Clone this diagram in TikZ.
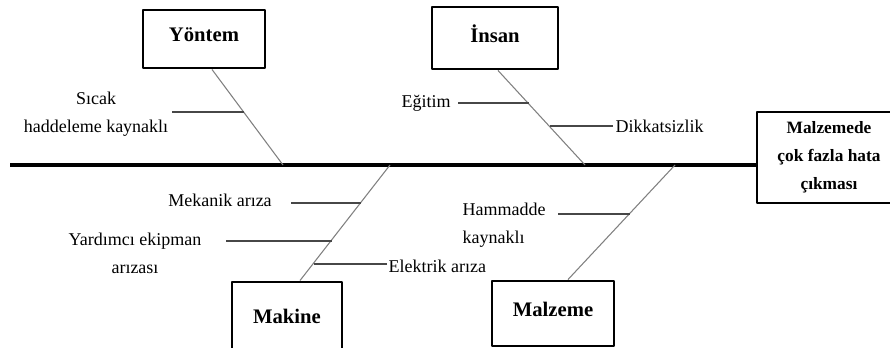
\documentclass[tikz,border=0pt]{standalone}
\usepackage{fontspec}
\setmainfont{Liberation Serif}
\begin{document}
\begin{tikzpicture}[x=.75pt,y=-.75pt,line join=round,
		font=\fontsize{13.5}{21}\selectfont,
		cat/.style={draw,line width=2.2pt,font=\fontsize{15.5}{18}\selectfont\bfseries,text depth=7pt},
		bone/.style={color=black!50,line width=.8pt},
		twig/.style={color=black!72,line width=.8pt}]
	\useasboundingbox (0,0) rectangle (890,347);
	\node[cat,minimum width=91.5pt,minimum height=43.5pt] (yontem) at (204,39) {Yöntem};
	\node[cat,minimum width=94.5pt,minimum height=46.5pt] (insan) at (495,38) {İnsan};
	\node[cat,minimum width=82.5pt,minimum height=58.5pt] (makine) at (287,321) {Makine};
	\node[cat,minimum width=91.5pt,minimum height=48.75pt] (malzeme) at (553,313.5) {Malzeme};
	\node[draw,line width=1.5pt,align=center,minimum width=108pt,minimum height=68.25pt,
		font=\fontsize{13}{21}\selectfont\bfseries] (effect) at (829,157.5) {Malzemede\\çok fazla hata\\çıkması};
	\path
	(10,165)coordinate (tail)
	(283,165)coordinate (ys)
	(585,165)coordinate (is)
	(390,165)coordinate (ms)
	(675,165)coordinate (zs)
	(172,112)coordinate (s0)
	(458,103)coordinate (e0)
	(613,126)coordinate (d0)
	(291,203)coordinate (m0)
	(226,241)coordinate (r0)
	(387,264)coordinate (k0)
	(558,214)coordinate (h0)
	;
	\node[align=center] (sicak) at (96,114) {Sıcak\\haddeleme kaynaklı};
	\node (egitim) at (426,103) {Eğitim};
	\node[anchor=west] (dikkat) at (611,126) {Dikkatsizlik};
	\node (mekanik) at (220,200) {Mekanik arıza};
	\node[align=center] (yardimci) at (135,253.5) {Yardımcı ekipman\\arızası};
	\node[anchor=west] (elektrik) at (384,266) {Elektrik arıza};
	\node[align=left,anchor=west] (hammadde) at (458,225) {Hammadde\\kaynaklı};
	\draw[line width=3pt] (tail)--(tail -| effect.west);
	\draw[bone] ([xshift=6pt]yontem.south)--(ys) coordinate[pos=.454] (s1);
	\draw[bone] ([xshift=2.25pt]insan.south)--(is) coordinate[pos=.354] (e1) coordinate[pos=.594] (d1);
	\draw[bone] ([xshift=9.75pt]makine.north)--(ms) coordinate[pos=.675] (m1) coordinate[pos=.35] (r1) coordinate[pos=.154] (k1);
	\draw[bone] ([xshift=11.25pt]malzeme.north)--(zs) coordinate[pos=.578] (h1);
	\draw[twig] (s0)--(s0 -| s1);
	\draw[twig] (e0)--(e0 -| e1);
	\draw[twig] (d0)--(d0 -| d1);
	\draw[twig] (m0)--(m0 -| m1);
	\draw[twig] (r0)--(r0 -| r1);
	\draw[twig] (k0)--(k0 -| k1);
	\draw[twig] (h0)--(h0 -| h1);
\end{tikzpicture}
\end{document}
